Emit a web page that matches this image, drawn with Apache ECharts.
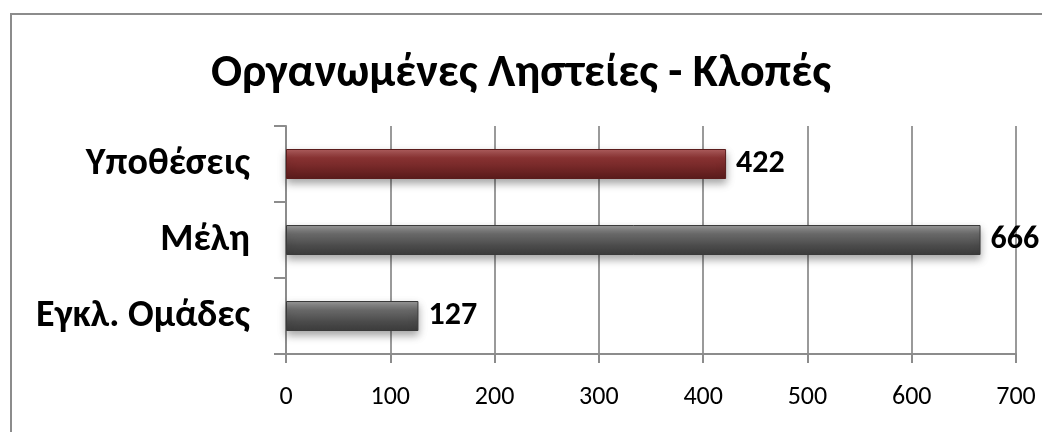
<!DOCTYPE html>
<html>
<head>
<meta charset="utf-8">
<script src="https://cdn.jsdelivr.net/npm/echarts@6/dist/echarts.min.js"></script>
<style>
  html, body { margin: 0; padding: 0; background: #fff; }
  #chart { width: 1042px; height: 432px; }
</style>
</head>
<body>
<div id="chart"></div>
<script>
const categories = ['Εγκλ. Ομάδες', 'Μέλη', 'Υποθέσεις'];
const values = [127, 666, 422];
const barTones = ['gray', 'gray', 'red'];

const gradients = {
  gray: ['#9a9a9a', '#6a6a6a', '#4a4a4a', '#3c3c3c'],
  red: ['#b06060', '#8a3333', '#6e2424', '#5a1c1c']
};

const fontFamily = 'Carlito, "Open Sans", "Noto Sans", sans-serif';

const makeFill = (tone) => new echarts.graphic.LinearGradient(0, 0, 0, 1, [
  { offset: 0, color: gradients[tone][0] },
  { offset: 0.3, color: gradients[tone][1] },
  { offset: 0.7, color: gradients[tone][2] },
  { offset: 1, color: gradients[tone][3] }
]);

const chart = echarts.init(document.getElementById('chart'), null, { renderer: 'canvas' });

chart.setOption({
  backgroundColor: '#fff',
  animation: false,
  title: {
    text: 'Οργανωμένες Ληστείες - Κλοπές',
    left: 'center',
    top: 46,
    textStyle: { fontFamily, fontSize: 46, fontWeight: 'bold', color: '#000' }
  },
  graphic: [{
    type: 'rect',
    shape: { x: 11, y: 14, width: 1100, height: 500 },
    style: { fill: 'none', stroke: '#8c8c8c', lineWidth: 2 },
    silent: true
  }],
  grid: { left: 286, right: 26, top: 126, bottom: 78 },
  xAxis: {
    type: 'value',
    min: 0,
    max: 700,
    interval: 100,
    axisLine: { show: true, lineStyle: { color: '#8c8c8c', width: 2 } },
    axisTick: { show: true, length: 9, lineStyle: { color: '#8c8c8c', width: 2 } },
    axisLabel: { fontFamily, fontSize: 26, color: '#000', margin: 30 },
    splitLine: { show: true, lineStyle: { color: '#9a9a9a', width: 2 } }
  },
  yAxis: {
    type: 'category',
    data: categories,
    axisLine: { show: true, lineStyle: { color: '#8c8c8c', width: 2 } },
    axisTick: { show: true, length: 12, lineStyle: { color: '#8c8c8c', width: 2 } },
    axisLabel: { fontFamily, fontSize: 38, fontWeight: 'bold', color: '#000', margin: 36 }
  },
  series: [{
    type: 'bar',
    barWidth: 30,
    data: values.map((v, i) => ({
      value: v,
      itemStyle: {
        color: makeFill(barTones[i]),
        borderColor: barTones[i] === 'red' ? '#5a1c1c' : '#3a3a3a',
        borderWidth: 1,
        shadowColor: 'rgba(0,0,0,0.35)',
        shadowBlur: 8,
        shadowOffsetY: 4
      }
    })),
    label: {
      show: true,
      position: 'right',
      distance: 10,
      fontFamily,
      fontSize: 32,
      fontWeight: 'bold',
      color: '#000'
    }
  }]
});
</script>
</body>
</html>
